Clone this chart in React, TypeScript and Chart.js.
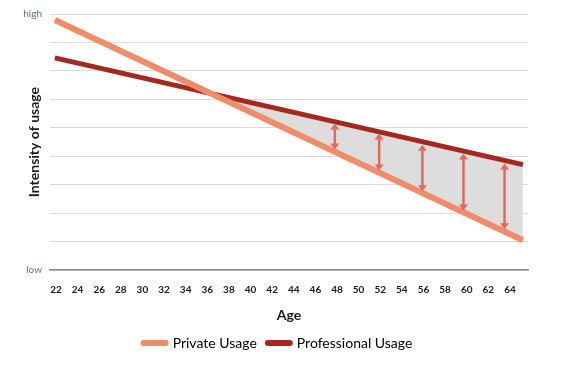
import React, { useEffect, useRef } from "react";
import { Chart, registerables } from "chart.js";

Chart.register(...registerables);

// Ages shown on the x axis
const ageTicks = [22, 24, 26, 28, 30, 32, 34, 36, 38, 40, 42, 44, 46, 48, 50, 52, 54, 56, 58, 60, 62, 64];
// Line end points (age) and usage intensity (0 = low, 9 = high)
const lineAges = [21.9, 65.2];
const privateUsage = [8.79, 1.05];
const professionalUsage = [7.46, 3.71];
// Gap arrows between the two lines
const arrowAges = [47.8, 51.9, 55.9, 59.7, 63.5];
const arrowTop = [5.15, 4.8, 4.41, 4.1, 3.75];
const arrowBottom = [4.24, 3.5, 2.77, 2.1, 1.44];

const PRIVATE_COLOR = "#F08C68";
const PRO_COLOR = "#A4281B";
const ARROW_COLOR = "#E4695D";

const arrowPlugin = {
  id: "gapArrows",
  afterLayout(chart: any) {
    if (chart.legend) {
      chart.legend.left += 14;
      chart.legend.right += 14;
    }
  },
  afterDatasetsDraw(chart: any) {
    const { ctx, scales } = chart;
    const xs = scales.x;
    const ys = scales.y;
    ctx.save();
    ctx.strokeStyle = ARROW_COLOR;
    ctx.fillStyle = ARROW_COLOR;
    ctx.lineWidth = 2.5;
    arrowAges.forEach((a, i) => {
      const x = xs.getPixelForValue(a);
      const y1 = ys.getPixelForValue(arrowTop[i]);
      const y2 = ys.getPixelForValue(arrowBottom[i]);
      const hh = 6;
      const hw = 4.5;
      ctx.beginPath();
      ctx.moveTo(x, y1 + hh - 1);
      ctx.lineTo(x, y2 - hh + 1);
      ctx.stroke();
      ctx.beginPath();
      ctx.moveTo(x, y1);
      ctx.lineTo(x - hw, y1 + hh);
      ctx.lineTo(x + hw, y1 + hh);
      ctx.closePath();
      ctx.fill();
      ctx.beginPath();
      ctx.moveTo(x, y2);
      ctx.lineTo(x - hw, y2 - hh);
      ctx.lineTo(x + hw, y2 - hh);
      ctx.closePath();
      ctx.fill();
    });
    ctx.restore();
  },
};

export default function App() {
  const ref = useRef<HTMLCanvasElement | null>(null);
  useEffect(() => {
    if (!ref.current) return;
    const chart = new Chart(ref.current, {
      type: "line",
      data: {
        datasets: [
          {
            label: "Private Usage",
            data: lineAges.map((a, i) => ({ x: a, y: privateUsage[i] })),
            borderColor: PRIVATE_COLOR,
            backgroundColor: PRIVATE_COLOR,
            borderWidth: 6,
            pointRadius: 0,
            fill: false,
          },
          {
            label: "Professional Usage",
            data: lineAges.map((a, i) => ({ x: a, y: professionalUsage[i] })),
            borderColor: PRO_COLOR,
            backgroundColor: PRO_COLOR,
            borderWidth: 5,
            pointRadius: 0,
            fill: { target: 0, above: "#DDDDDD", below: "rgba(0,0,0,0)" },
          },
        ],
      },
      options: {
        animation: false,
        responsive: false,
        maintainAspectRatio: false,
        layout: { padding: { top: 13, right: 38, left: 0, bottom: 8 } },
        plugins: {
          tooltip: { enabled: false },
          legend: {
            position: "bottom",
            labels: {
              color: "#1a1a1a",
              font: { family: "Lato", size: 14 },
              usePointStyle: true,
              pointStyleWidth: 22,
              boxHeight: 6,
              padding: 11,
              generateLabels: (c: any) =>
                c.data.datasets.map((d: any, i: number) => ({
                  text: d.label,
                  fillStyle: d.borderColor,
                  strokeStyle: d.borderColor,
                  lineWidth: 6,
                  lineCap: "round",
                  pointStyle: "line",
                  hidden: false,
                  datasetIndex: i,
                })),
            },
          },
        },
        scales: {
          x: {
            type: "linear",
            min: 21.45,
            max: 65.67,
            afterBuildTicks: (s: any) => {
              s.ticks = ageTicks.map((v) => ({ value: v }));
            },
            grid: { display: false },
            border: { display: true, color: "#8C8C8C", width: 1.5 },
            ticks: {
              autoSkip: false,
              maxRotation: 0,
              padding: 6,
              color: "#1a1a1a",
              font: { family: "Lato", size: 10, weight: "bold" },
            },
            title: {
              display: true,
              text: "Age",
              color: "#1a1a1a",
              font: { family: "Lato", size: 14, weight: "bold" },
              padding: { top: 5, bottom: 1 },
            },
          },
          y: {
            min: 0,
            max: 9,
            afterFit: (s: any) => {
              s.width = 50;
            },
            ticks: {
              stepSize: 1,
              padding: 8,
              color: "#5B6D8E",
              font: { family: "Lato", size: 10 },
              callback: (v: any) => (v === 9 ? "high" : v === 0 ? "low" : ""),
            },
            grid: { color: "#DADADA", lineWidth: 1, drawTicks: false },
            border: { display: false },
            title: {
              display: true,
              text: "Intensity of usage",
              color: "#1a1a1a",
              font: { family: "Lato", size: 14, weight: "bold" },
              padding: { top: 26, bottom: 0 },
            },
          },
        },
      },
      plugins: [arrowPlugin],
    } as any);
    return () => chart.destroy();
  }, []);
  return (
    <div style={{ position: "fixed", left: 0, top: 0, width: 566, height: 368, background: "#fff" }}>
      <canvas ref={ref} width={566} height={368} style={{ width: 566, height: 368 }} />
    </div>
  );
}
